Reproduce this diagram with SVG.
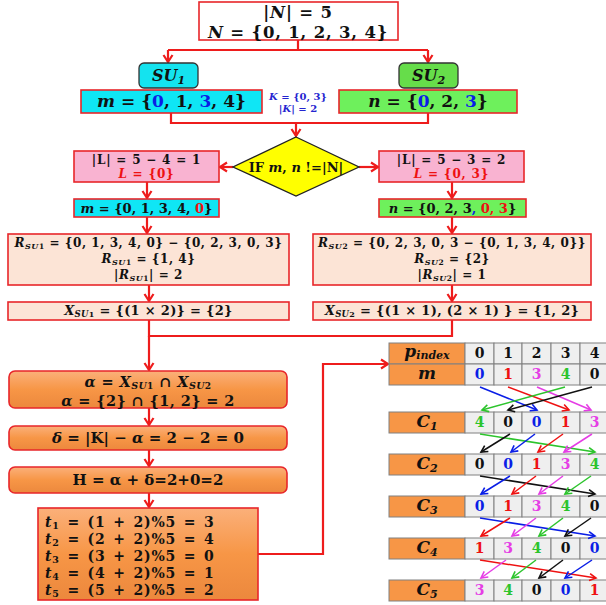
<svg xmlns="http://www.w3.org/2000/svg" width="606" height="605" viewBox="0 0 606 605">
<defs>
<style>
.t{font-family:"DejaVu Serif","Liberation Serif",serif;font-weight:bold;text-anchor:middle;fill:#111}
.i{font-style:italic}
.rb{stroke:#e8262a;stroke-width:1.6}
.con{stroke:#ee1c1c;stroke-width:2.2;fill:none}
.cell{fill:#efefef;stroke:#808080;stroke-width:1}
.lab{fill:#f79646;stroke:#808080;stroke-width:1}
.blue{fill:#0a1ee6}.red{fill:#ee1111}.mag{fill:#e53de5}.grn{fill:#2cc42c}.blk{fill:#111}
.ta{stroke-width:1.5;fill:none}
.kb{fill:#2424d0}
</style>
<linearGradient id="og" x1="0" y1="0" x2="0" y2="1">
<stop offset="0" stop-color="#fbb07a"/><stop offset="0.5" stop-color="#f79646"/><stop offset="1" stop-color="#ec883d"/>
</linearGradient>
<marker id="ar" markerUnits="userSpaceOnUse" markerWidth="12" markerHeight="12" refX="9" refY="6" orient="auto"><path d="M2,1.5 L9,6 L2,10.5" fill="none" stroke="#ee1c1c" stroke-width="2.2"/></marker>
<marker id="mb" markerUnits="userSpaceOnUse" markerWidth="10" markerHeight="10" refX="8" refY="5" orient="auto"><path d="M1.5,1.5 L8,5 L1.5,8.5" fill="none" stroke="#0a1ee6" stroke-width="1.6"/></marker>
<marker id="mr" markerUnits="userSpaceOnUse" markerWidth="10" markerHeight="10" refX="8" refY="5" orient="auto"><path d="M1.5,1.5 L8,5 L1.5,8.5" fill="none" stroke="#ee1111" stroke-width="1.6"/></marker>
<marker id="mm" markerUnits="userSpaceOnUse" markerWidth="10" markerHeight="10" refX="8" refY="5" orient="auto"><path d="M1.5,1.5 L8,5 L1.5,8.5" fill="none" stroke="#e53de5" stroke-width="1.6"/></marker>
<marker id="mg" markerUnits="userSpaceOnUse" markerWidth="10" markerHeight="10" refX="8" refY="5" orient="auto"><path d="M1.5,1.5 L8,5 L1.5,8.5" fill="none" stroke="#2cc42c" stroke-width="1.6"/></marker>
<marker id="mk" markerUnits="userSpaceOnUse" markerWidth="10" markerHeight="10" refX="8" refY="5" orient="auto"><path d="M1.5,1.5 L8,5 L1.5,8.5" fill="none" stroke="#111" stroke-width="1.6"/></marker>
</defs>
<rect width="606" height="605" fill="#fff"/>

<g id="connectors">
<path class="con" d="M298,40 V50 M168,50 H428"/>
<path class="con" d="M168,50 V62" marker-end="url(#ar)"/>
<path class="con" d="M428,50 V62" marker-end="url(#ar)"/>
<path class="con" d="M171,113 V123 H428 V113"/>
<path class="con" d="M296,123 V136" marker-end="url(#ar)"/>
<path class="con" d="M233,167 H220" marker-end="url(#ar)"/>
<path class="con" d="M359,167 H378" marker-end="url(#ar)"/>
<path class="con" d="M147,182 V198" marker-end="url(#ar)"/>
<path class="con" d="M452,182 V198" marker-end="url(#ar)"/>
<path class="con" d="M147,217 V233" marker-end="url(#ar)"/>
<path class="con" d="M452,217 V233" marker-end="url(#ar)"/>
<path class="con" d="M149,285 V301" marker-end="url(#ar)"/>
<path class="con" d="M452,285 V301" marker-end="url(#ar)"/>
<path class="con" d="M452,320 V336 H149 V320"/>
<path class="con" d="M149,336 V370" marker-end="url(#ar)"/>
<path class="con" d="M149,408 V425" marker-end="url(#ar)"/>
<path class="con" d="M149,450 V466" marker-end="url(#ar)"/>
<path class="con" d="M149,493 V507" marker-end="url(#ar)"/>
<path class="con" d="M258,554 H323 V364 H388" marker-end="url(#ar)"/>
</g>

<g id="n-top">
<rect x="199" y="2" width="199" height="38" fill="#fff" class="rb"/>
<text class="t" x="298" y="18" font-size="16.5" letter-spacing="0.8">|<tspan class="i">N</tspan>| = 5</text>
<text class="t" x="298" y="37.5" font-size="16.5" letter-spacing="0.8"><tspan class="i">N</tspan> = {0, 1, 2, 3, 4}</text>
</g>

<g id="n-su1">
<rect x="139" y="63" width="59" height="25" rx="5" fill="#14e3ef" stroke="#333" stroke-width="1.3"/>
<text class="t i" x="168.5" y="81" font-size="16">SU<tspan font-size="11" dy="3">1</tspan></text>
</g>
<g id="n-su2">
<rect x="399" y="63" width="59" height="25" rx="5" fill="#66dd4a" stroke="#333" stroke-width="1.3"/>
<text class="t i" x="428.5" y="81" font-size="16">SU<tspan font-size="11" dy="3">2</tspan></text>
</g>

<g id="n-m">
<rect x="81" y="90" width="181" height="23" fill="#0fe6f5" class="rb"/>
<text class="t" x="171.5" y="107" font-size="17"><tspan class="i">m</tspan> = {<tspan class="blue">0</tspan>, 1, <tspan class="blue">3</tspan>, 4}</text>
</g>
<g id="n-n">
<rect x="339" y="90" width="178" height="23" fill="#6ef05c" class="rb"/>
<text class="t" x="428" y="107" font-size="17"><tspan class="i">n</tspan> = {<tspan class="blue">0</tspan>, 2, <tspan class="blue">3</tspan>}</text>
</g>
<g id="n-k">
<text class="t kb" x="298" y="99.5" font-size="10"><tspan class="i">K</tspan> = {0, 3}</text>
<text class="t kb" x="298" y="111.5" font-size="10">|<tspan class="i">K</tspan>| = 2</text>
</g>

<g id="n-if">
<polygon points="296,137 359,167 296,196 233,167" fill="#ffff00" stroke="#222" stroke-width="1.3"/>
<text class="t" x="296" y="172" font-size="13">IF <tspan class="i">m</tspan>, <tspan class="i">n</tspan> !=|N|</text>
</g>

<g id="n-l1">
<rect x="74" y="151" width="145" height="31" fill="#f9b3d1" class="rb"/>
<text class="t" x="146.5" y="163.5" font-size="12" letter-spacing="0.8">|L| = 5 − 4 = 1</text>
<text class="t red" x="146.5" y="178" font-size="12" letter-spacing="0.8"><tspan class="i">L</tspan> = {0}</text>
</g>
<g id="n-l2">
<rect x="379" y="151" width="145" height="31" fill="#f9b3d1" class="rb"/>
<text class="t" x="451.5" y="163.5" font-size="12" letter-spacing="0.8">|L| = 5 − 3 = 2</text>
<text class="t red" x="451.5" y="178" font-size="12" letter-spacing="0.8"><tspan class="i">L</tspan> = {0, 3}</text>
</g>

<g id="n-m2">
<rect x="74" y="199" width="145" height="18" fill="#0fe6f5" class="rb"/>
<text class="t" x="146.5" y="213" font-size="13"><tspan class="i">m</tspan> = {0, 1, 3, 4, <tspan class="red">0</tspan>}</text>
</g>
<g id="n-n2">
<rect x="379" y="199" width="147" height="18" fill="#6ef05c" class="rb"/>
<text class="t" x="452.5" y="213" font-size="13"><tspan class="i">n</tspan> = {0, 2, 3<tspan class="blue">,</tspan> <tspan class="red">0, 3</tspan>}</text>
</g>

<g id="n-r1">
<rect x="8" y="234" width="281" height="51" fill="#fce4d6" class="rb"/>
<g class="t" font-size="12" letter-spacing="0.55">
<text x="148.5" y="247"><tspan class="i">R</tspan><tspan class="i" font-size="8" dy="2">SU</tspan><tspan font-size="7.5">1</tspan><tspan dy="-2"> = {0, 1, 3, 4, 0} − {0, 2, 3, 0, 3}</tspan></text>
<text x="148.5" y="263"><tspan class="i">R</tspan><tspan class="i" font-size="8" dy="2">SU</tspan><tspan font-size="7.5">1</tspan><tspan dy="-2"> = {1, 4}</tspan></text>
<text x="148.5" y="279">|<tspan class="i">R</tspan><tspan class="i" font-size="8" dy="2">SU</tspan><tspan font-size="7.5">1</tspan><tspan dy="-2">| = 2</tspan></text>
</g>
</g>
<g id="n-r2">
<rect x="313" y="234" width="278" height="51" fill="#fce4d6" class="rb"/>
<g class="t" font-size="12" letter-spacing="0.55">
<text x="452" y="247"><tspan class="i">R</tspan><tspan class="i" font-size="8" dy="2">SU</tspan><tspan font-size="7.5">2</tspan><tspan dy="-2"> = {0, 2, 3, 0, 3 − {0, 1, 3, 4, 0}}</tspan></text>
<text x="452" y="263"><tspan class="i">R</tspan><tspan class="i" font-size="8" dy="2">SU</tspan><tspan font-size="7.5">2</tspan><tspan dy="-2"> = {2}</tspan></text>
<text x="452" y="279">|<tspan class="i">R</tspan><tspan class="i" font-size="8" dy="2">SU</tspan><tspan font-size="7.5">2</tspan><tspan dy="-2">| = 1</tspan></text>
</g>
</g>

<g id="n-x1">
<rect x="8" y="302" width="281" height="18" fill="#fce4d6" class="rb"/>
<text class="t" x="148.5" y="315" font-size="13" letter-spacing="0.3"><tspan class="i">X</tspan><tspan class="i" font-size="8.5" dy="2">SU</tspan><tspan font-size="8">1</tspan><tspan dy="-2"> = {(1 × 2)} = {2}</tspan></text>
</g>
<g id="n-x2">
<rect x="313" y="302" width="278" height="18" fill="#fce4d6" class="rb"/>
<text class="t" x="452" y="315" font-size="13" letter-spacing="0.3"><tspan class="i">X</tspan><tspan class="i" font-size="8.5" dy="2">SU</tspan><tspan font-size="8">2</tspan><tspan dy="-2"> = {(1 × 1), (2 × 1) } = {1, 2}</tspan></text>
</g>

<g id="n-alpha">
<rect x="9" y="371" width="278" height="37" rx="6" fill="url(#og)" class="rb"/>
<text class="t" x="148" y="386.5" font-size="14.5" letter-spacing="0.4"><tspan class="i">α</tspan> = <tspan class="i">X</tspan><tspan class="i" font-size="9.5" dy="2.5">SU</tspan><tspan font-size="9">1</tspan><tspan dy="-2.5"> ∩ </tspan><tspan class="i">X</tspan><tspan class="i" font-size="9.5" dy="2.5">SU</tspan><tspan font-size="9">2</tspan></text>
<text class="t" x="148" y="405.5" font-size="14.5" letter-spacing="0.4"><tspan class="i">α</tspan> = {2} ∩ {1, 2} = 2</text>
</g>
<g id="n-delta">
<rect x="9" y="426" width="278" height="24" rx="6" fill="url(#og)" class="rb"/>
<text class="t" x="148" y="443" font-size="15"><tspan class="i">δ</tspan> = |K| − <tspan class="i">α</tspan> = 2 − 2 = 0</text>
</g>
<g id="n-h">
<rect x="9" y="467" width="278" height="26" rx="6" fill="url(#og)" class="rb"/>
<text class="t" x="148" y="485" font-size="15">H = α + δ=2+0=2</text>
</g>
<g id="n-t">
<rect x="38" y="508" width="220" height="92" fill="url(#og)" class="rb"/>
<g class="t" font-size="14" letter-spacing="0.8" word-spacing="2" style="text-anchor:start">
<text x="45" y="527"><tspan class="i">t</tspan><tspan font-size="9.5" dy="1.5">1</tspan><tspan dy="-1.5"> = (1 + 2)%5 = 3</tspan></text>
<text x="45" y="544"><tspan class="i">t</tspan><tspan font-size="9.5" dy="1.5">2</tspan><tspan dy="-1.5"> = (2 + 2)%5 = 4</tspan></text>
<text x="45" y="561"><tspan class="i">t</tspan><tspan font-size="9.5" dy="1.5">3</tspan><tspan dy="-1.5"> = (3 + 2)%5 = 0</tspan></text>
<text x="45" y="578"><tspan class="i">t</tspan><tspan font-size="9.5" dy="1.5">4</tspan><tspan dy="-1.5"> = (4 + 2)%5 = 1</tspan></text>
<text x="45" y="595"><tspan class="i">t</tspan><tspan font-size="9.5" dy="1.5">5</tspan><tspan dy="-1.5"> = (5 + 2)%5 = 2</tspan></text>
</g>
</g>

<g id="table">
<g id="row-p">
<rect class="lab" x="389" y="343" width="76" height="21"/>
<rect class="cell" x="465" y="343" width="29" height="21"/><rect class="cell" x="494" y="343" width="28" height="21"/><rect class="cell" x="522" y="343" width="29" height="21"/><rect class="cell" x="551" y="343" width="29" height="21"/><rect class="cell" x="580" y="343" width="29" height="21"/>
<text class="t i" x="427" y="357" font-size="17">p<tspan font-size="11" dy="2">index</tspan></text>
<g class="t" font-size="14"><text x="479.5" y="358">0</text><text x="508" y="358">1</text><text x="536.5" y="358">2</text><text x="565.5" y="358">3</text><text x="594.5" y="358">4</text></g>
</g>
<g id="row-m">
<rect class="lab" x="389" y="364" width="76" height="21"/>
<rect class="cell" x="465" y="364" width="29" height="21"/><rect class="cell" x="494" y="364" width="28" height="21"/><rect class="cell" x="522" y="364" width="29" height="21"/><rect class="cell" x="551" y="364" width="29" height="21"/><rect class="cell" x="580" y="364" width="29" height="21"/>
<text class="t i" x="427" y="379" font-size="17">m</text>
<g class="t" font-size="14"><text class="blue" x="479.5" y="379">0</text><text class="red" x="508" y="379">1</text><text class="mag" x="536.5" y="379">3</text><text class="grn" x="565.5" y="379">4</text><text x="594.5" y="379">0</text></g>
</g>
<g id="row-c1">
<rect class="lab" x="389" y="412" width="76" height="21"/>
<rect class="cell" x="465" y="412" width="29" height="21"/><rect class="cell" x="494" y="412" width="28" height="21"/><rect class="cell" x="522" y="412" width="29" height="21"/><rect class="cell" x="551" y="412" width="29" height="21"/><rect class="cell" x="580" y="412" width="29" height="21"/>
<text class="t i" x="427" y="427" font-size="17">C<tspan font-size="11" dy="3">1</tspan></text>
<g class="t" font-size="14"><text class="grn" x="479.5" y="427">4</text><text x="508" y="427">0</text><text class="blue" x="536.5" y="427">0</text><text class="red" x="565.5" y="427">1</text><text class="mag" x="594.5" y="427">3</text></g>
</g>
<g id="row-c2">
<rect class="lab" x="389" y="454" width="76" height="21"/>
<rect class="cell" x="465" y="454" width="29" height="21"/><rect class="cell" x="494" y="454" width="28" height="21"/><rect class="cell" x="522" y="454" width="29" height="21"/><rect class="cell" x="551" y="454" width="29" height="21"/><rect class="cell" x="580" y="454" width="29" height="21"/>
<text class="t i" x="427" y="469" font-size="17">C<tspan font-size="11" dy="3">2</tspan></text>
<g class="t" font-size="14"><text x="479.5" y="469">0</text><text class="blue" x="508" y="469">0</text><text class="red" x="536.5" y="469">1</text><text class="mag" x="565.5" y="469">3</text><text class="grn" x="594.5" y="469">4</text></g>
</g>
<g id="row-c3">
<rect class="lab" x="389" y="496" width="76" height="21"/>
<rect class="cell" x="465" y="496" width="29" height="21"/><rect class="cell" x="494" y="496" width="28" height="21"/><rect class="cell" x="522" y="496" width="29" height="21"/><rect class="cell" x="551" y="496" width="29" height="21"/><rect class="cell" x="580" y="496" width="29" height="21"/>
<text class="t i" x="427" y="511" font-size="17">C<tspan font-size="11" dy="3">3</tspan></text>
<g class="t" font-size="14"><text class="blue" x="479.5" y="511">0</text><text class="red" x="508" y="511">1</text><text class="mag" x="536.5" y="511">3</text><text class="grn" x="565.5" y="511">4</text><text x="594.5" y="511">0</text></g>
</g>
<g id="row-c4">
<rect class="lab" x="389" y="538" width="76" height="21"/>
<rect class="cell" x="465" y="538" width="29" height="21"/><rect class="cell" x="494" y="538" width="28" height="21"/><rect class="cell" x="522" y="538" width="29" height="21"/><rect class="cell" x="551" y="538" width="29" height="21"/><rect class="cell" x="580" y="538" width="29" height="21"/>
<text class="t i" x="427" y="553" font-size="17">C<tspan font-size="11" dy="3">4</tspan></text>
<g class="t" font-size="14"><text class="red" x="479.5" y="553">1</text><text class="mag" x="508" y="553">3</text><text class="grn" x="536.5" y="553">4</text><text x="565.5" y="553">0</text><text class="blue" x="594.5" y="553">0</text></g>
</g>
<g id="row-c5">
<rect class="lab" x="389" y="580" width="76" height="21"/>
<rect class="cell" x="465" y="580" width="29" height="21"/><rect class="cell" x="494" y="580" width="28" height="21"/><rect class="cell" x="522" y="580" width="29" height="21"/><rect class="cell" x="551" y="580" width="29" height="21"/><rect class="cell" x="580" y="580" width="29" height="21"/>
<text class="t i" x="427" y="595" font-size="17">C<tspan font-size="11" dy="3">5</tspan></text>
<g class="t" font-size="14"><text class="mag" x="479.5" y="595">3</text><text class="grn" x="508" y="595">4</text><text x="536.5" y="595">0</text><text class="blue" x="565.5" y="595">0</text><text class="red" x="594.5" y="595">1</text></g>
</g>
</g>

<g id="table-arrows" class="ta">
<line x1="480" y1="387" x2="537" y2="410" stroke="#0a1ee6" marker-end="url(#mb)"/>
<line x1="508" y1="387" x2="569" y2="410" stroke="#ee1111" marker-end="url(#mr)"/>
<line x1="537" y1="387" x2="591" y2="410" stroke="#e53de5" marker-end="url(#mm)"/>
<line x1="565" y1="387" x2="482" y2="410" stroke="#2cc42c" marker-end="url(#mg)"/>
<line x1="592" y1="387" x2="508" y2="410" stroke="#111" marker-end="url(#mk)"/>

<line x1="480" y1="434" x2="595" y2="452" stroke="#2cc42c" marker-end="url(#mg)"/>
<line x1="510" y1="434" x2="481" y2="452" stroke="#111" marker-end="url(#mk)"/>
<line x1="535" y1="434" x2="511" y2="452" stroke="#0a1ee6" marker-end="url(#mb)"/>
<line x1="563" y1="434" x2="538" y2="452" stroke="#ee1111" marker-end="url(#mr)"/>
<line x1="592" y1="434" x2="564" y2="452" stroke="#e53de5" marker-end="url(#mm)"/>

<line x1="480" y1="476" x2="595" y2="494" stroke="#111" marker-end="url(#mk)"/>
<line x1="510" y1="476" x2="481" y2="494" stroke="#0a1ee6" marker-end="url(#mb)"/>
<line x1="536" y1="476" x2="512" y2="494" stroke="#ee1111" marker-end="url(#mr)"/>
<line x1="563" y1="476" x2="539" y2="494" stroke="#e53de5" marker-end="url(#mm)"/>
<line x1="591" y1="476" x2="565" y2="494" stroke="#2cc42c" marker-end="url(#mg)"/>

<line x1="480" y1="518" x2="595" y2="536" stroke="#0a1ee6" marker-end="url(#mb)"/>
<line x1="510" y1="518" x2="481" y2="536" stroke="#ee1111" marker-end="url(#mr)"/>
<line x1="536" y1="518" x2="512" y2="536" stroke="#e53de5" marker-end="url(#mm)"/>
<line x1="563" y1="518" x2="539" y2="536" stroke="#2cc42c" marker-end="url(#mg)"/>
<line x1="591" y1="518" x2="565" y2="536" stroke="#111" marker-end="url(#mk)"/>

<line x1="480" y1="560" x2="596" y2="578" stroke="#ee1111" marker-end="url(#mr)"/>
<line x1="506" y1="560" x2="481" y2="578" stroke="#e53de5" marker-end="url(#mm)"/>
<line x1="536" y1="560" x2="512" y2="578" stroke="#2cc42c" marker-end="url(#mg)"/>
<line x1="563" y1="560" x2="539" y2="578" stroke="#111" marker-end="url(#mk)"/>
<line x1="592" y1="560" x2="565" y2="578" stroke="#0a1ee6" marker-end="url(#mb)"/>
</g>
</svg>
